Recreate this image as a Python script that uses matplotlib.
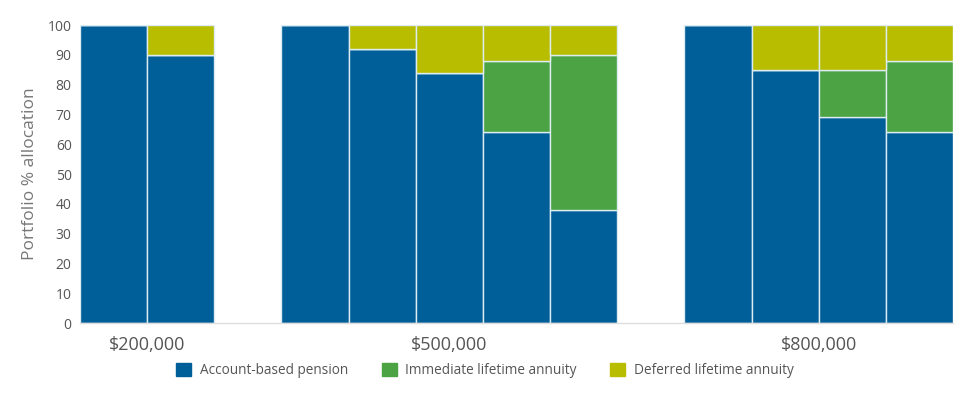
import matplotlib
matplotlib.use("Agg")
import matplotlib.pyplot as plt
import numpy as np

plt.rcParams['font.family'] = ['Open Sans', 'DejaVu Sans']

groups = ["$200,000", "$500,000", "$800,000"]
# slot index of each bar (gaps between groups left empty)
positions = [0, 1, 3, 4, 5, 6, 7, 9, 10, 11, 12]
account_based = [100, 90, 100, 92, 84, 64, 38, 100, 85, 69, 64]
immediate = [0, 0, 0, 0, 0, 24, 52, 0, 0, 16, 24]
deferred = [0, 10, 0, 8, 16, 12, 10, 0, 15, 15, 12]
group_centers = [1, 5.5, 11]
series_names = ["Account-based pension", "Immediate lifetime annuity", "Deferred lifetime annuity"]
colors = ["#005e98", "#4ba343", "#b8bd00"]
y_ticks = list(range(0, 101, 10))

fig = plt.figure(figsize=(9.67, 3.98), dpi=100)
ax = fig.add_axes([0.0827, 0.1884, 0.9028, 0.7486])

pos = np.array(positions)
ab = np.array(account_based)
im = np.array(immediate)
de = np.array(deferred)
edge = "#dcecf2"
ax.bar(pos + 0.5, ab, width=1.0, color=colors[0], edgecolor=edge, linewidth=1.0, label=series_names[0])
ax.bar(pos + 0.5, im, width=1.0, bottom=ab, color=colors[1], edgecolor=edge, linewidth=1.0, label=series_names[1])
ax.bar(pos + 0.5, de, width=1.0, bottom=ab + im, color=colors[2], edgecolor=edge, linewidth=1.0, label=series_names[2])

ax.set_xlim(0, 13)
ax.set_ylim(0, 100)
ax.set_yticks(y_ticks)
ax.set_xticks(group_centers)
ax.set_xticklabels(groups, fontsize=13, color="#555555")
ax.tick_params(axis='y', labelsize=10, colors="#555555", length=0, pad=6)
ax.tick_params(axis='x', length=0, pad=9)
for s in ["top", "right", "left"]:
    ax.spines[s].set_visible(False)
ax.spines["bottom"].set_color("#dddddd")
ax.spines["bottom"].set_linewidth(1.0)
ax.set_ylabel("Portfolio % allocation", fontsize=12.5, color="#777777", labelpad=7)

handles = [plt.Rectangle((0, 0), 1, 1, color=c) for c in colors]
fig.legend(handles, series_names, loc="center", bbox_to_anchor=(0.5015, 0.07), ncol=3,
           frameon=False, fontsize=9.8, handlelength=1.1, handleheight=1.1,
           columnspacing=2.5, handletextpad=0.6, labelcolor="#555555")

fig.savefig("out.png", dpi=100)
